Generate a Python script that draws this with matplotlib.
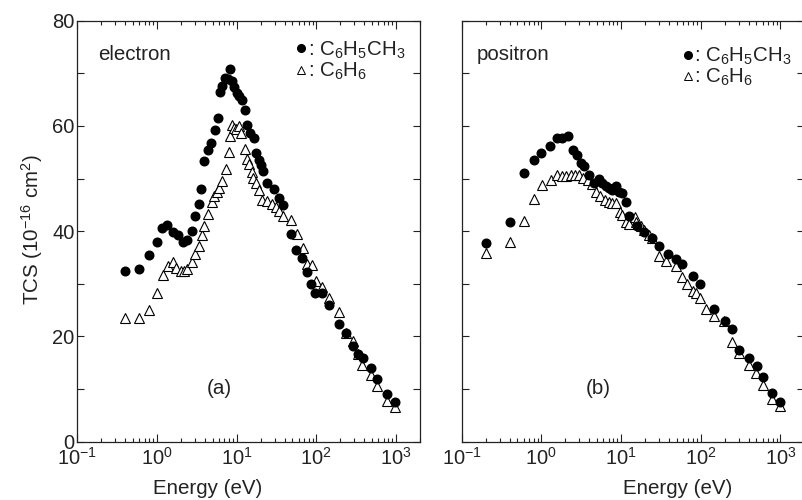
import numpy as np
import matplotlib.pyplot as plt
from matplotlib.lines import Line2D
from matplotlib.ticker import LogLocator, MultipleLocator, NullFormatter

plt.rcParams['font.family'] = ['Liberation Sans', 'DejaVu Sans']
plt.rcParams['mathtext.fontset'] = 'custom'
plt.rcParams['mathtext.rm'] = 'Liberation Sans'
plt.rcParams['mathtext.it'] = 'Liberation Sans:italic'
plt.rcParams['text.color'] = '#222222'

# ---- electron, toluene (filled circles)
e_tol_E = [0.4, 0.6, 0.8, 1.0, 1.15, 1.35, 1.6, 1.84, 2.1, 2.4, 2.74, 3.0, 3.36, 3.6,
           3.87, 4.4, 4.8, 5.4, 5.85, 6.2, 6.6, 7.1, 7.7, 8.3, 8.7, 9.35, 10.1, 10.8,
           11.7, 12.7, 13.5, 14.6, 16.6, 17.7, 18.8, 20, 21.4, 24.3, 29.4, 34, 38.6,
           48.6, 56, 67, 77, 86, 96, 117, 145, 190, 237, 285, 333, 383, 480, 580, 775, 980]
e_tol_T = [32.4, 32.8, 35.5, 38.0, 40.6, 41.2, 39.9, 39.3, 38.0, 38.3, 40.1, 42.9, 45.2, 48.0,
           53.4, 55.5, 56.7, 59.3, 61.6, 66.4, 67.5, 69.2, 69.0, 70.9, 68.6, 67.4, 66.2, 65.6,
           65.0, 63.1, 60.1, 58.6, 57.7, 54.8, 53.6, 52.6, 51.5, 49.2, 48.0, 46.4, 44.9,
           39.4, 36.4, 34.9, 32.3, 30.0, 28.3, 28.2, 25.9, 22.3, 20.7, 18.1, 16.6, 16.0, 14.0, 11.9, 9.0, 7.5]

# ---- electron, benzene (open triangles)
e_ben_E = [0.4, 0.6, 0.8, 1.0, 1.19, 1.37, 1.58, 1.75, 1.98, 2.2, 2.4, 2.75, 3.0, 3.35,
           3.7, 3.87, 4.4, 4.9, 5.2, 5.6, 6.0, 6.6, 7.3, 7.9, 8.3, 8.7, 9.2, 9.8, 10.8,
           11.5, 12.7, 13.3, 14.4, 15.4, 16.2, 17.6, 19.1, 21, 23.9, 27.5, 31, 34, 38,
           48.6, 58, 68, 77, 89, 98, 118, 145, 190, 237, 285, 333, 375, 480, 580, 775, 980]
e_ben_T = [23.6, 23.6, 25.0, 28.3, 31.7, 33.4, 34.2, 33.1, 32.5, 32.4, 32.8, 34.2, 35.7, 37.1,
           39.3, 40.9, 43.3, 45.5, 46.6, 47.4, 48.3, 49.6, 51.8, 55.1, 58.0, 60.1, 59.7, 59.4, 59.9,
           58.6, 55.6, 53.7, 52.8, 51.2, 50.1, 49.2, 47.9, 45.9, 45.8, 45.2, 44.6, 43.9, 42.9,
           42.1, 39.4, 36.9, 33.7, 33.6, 30.6, 29.4, 27.3, 24.7, 20.7, 19.2, 16.7, 14.6, 12.7, 10.6, 7.8, 6.5]

# ---- positron, toluene
p_tol_E = [0.2, 0.4, 0.6, 0.8, 1.0, 1.29, 1.57, 1.84, 2.16, 2.5, 2.77, 3.1, 3.4, 3.94,
           4.6, 5.3, 5.8, 6.4, 7.1, 7.8, 8.6, 9.5, 10.2, 11.5, 12.6, 16, 19.4, 24.3, 30,
           39, 48.6, 59, 79, 99, 146, 200, 247, 302, 400, 506, 600, 780, 980]
p_tol_T = [37.8, 41.8, 51.1, 53.6, 54.8, 56.1, 57.7, 57.8, 58.0, 55.5, 54.5, 52.9, 52.3, 50.6,
           49.2, 49.9, 49.1, 48.5, 48.2, 47.8, 48.5, 47.5, 47.3, 45.5, 42.8, 40.9, 39.9, 38.7, 37.2,
           35.6, 34.7, 33.7, 31.5, 29.9, 25.2, 22.9, 21.4, 17.4, 16.0, 14.3, 12.2, 9.3, 7.6]

# ---- positron, benzene
p_ben_E = [0.2, 0.4, 0.6, 0.8, 1.02, 1.32, 1.57, 1.8, 2.06, 2.37, 2.66, 3.0, 3.37, 3.83,
           4.33, 4.9, 5.5, 6.2, 7.0, 7.7, 8.6, 9.7, 10.2, 11.5, 12.6, 14.9, 15.6, 17.8, 19.4,
           22.5, 24.7, 30, 36.8, 48.6, 59, 68, 79, 87, 99, 117, 148, 195, 250, 302, 400, 500,
           600, 780, 980]
p_ben_T = [35.8, 38.0, 42.0, 46.1, 48.7, 49.8, 50.7, 50.4, 50.4, 50.7, 50.7, 50.7, 50.1, 49.8,
           48.9, 47.5, 46.6, 46.0, 45.6, 45.3, 45.3, 43.7, 43.1, 41.8, 41.4, 42.7, 41.8, 40.9, 40.2,
           39.3, 38.7, 35.3, 34.4, 33.3, 31.3, 30.0, 28.6, 28.2, 27.4, 25.2, 23.9, 22.9, 19.0, 16.8,
           14.6, 13.0, 10.8, 8.1, 6.8]

labels = [': C$_6$H$_5$CH$_3$', ': C$_6$H$_6$']

FS = 14.8

fig = plt.figure(figsize=(8.03, 5.0), dpi=100)
axl = fig.add_axes([77.3/803, 58.3/500, 342.7/803, 421/500])
axr = fig.add_axes([461.7/803, 58.3/500, 342.7/803, 421/500])

circ = dict(marker='o', ms=6.2, mfc='black', mec='black', ls='none')
tri = dict(marker='^', ms=6.5, mfc='white', mec='black', mew=0.8, ls='none')

for ax, tE, tT, bE, bT in [(axl, e_tol_E, e_tol_T, e_ben_E, e_ben_T),
                           (axr, p_tol_E, p_tol_T, p_ben_E, p_ben_T)]:
    ax.plot(bE, bT, **tri, zorder=2)
    ax.plot(tE, tT, **circ, zorder=3)
    ax.set_xscale('log')
    ax.set_xlim(0.1, 2000)
    ax.set_ylim(0, 80)
    ax.xaxis.set_major_locator(LogLocator(base=10, numticks=10))
    ax.xaxis.set_minor_locator(LogLocator(base=10, subs=np.arange(2, 10), numticks=20))
    ax.xaxis.set_minor_formatter(NullFormatter())
    ax.yaxis.set_major_locator(MultipleLocator(20))
    ax.yaxis.set_minor_locator(MultipleLocator(10))
    ax.tick_params(which='both', direction='in', top=True, right=True, width=0.8,
                   labelsize=14.5, colors='#222222')
    ax.tick_params(axis='x', which='major', length=6, pad=3.5)
    ax.tick_params(axis='x', which='minor', length=3)
    ax.tick_params(axis='y', which='both', length=5, pad=2)
    for s in ax.spines.values():
        s.set_linewidth(0.9)
        s.set_color('#222222')
    h = [Line2D([], [], marker='o', ms=5.5, mfc='black', mec='black', ls='none'),
         Line2D([], [], marker='^', ms=5.5, mfc='white', mec='black', mew=0.7, ls='none')]
    ax.legend(h, labels, frameon=False, fontsize=FS, handlelength=0.6, handletextpad=0.0,
              labelspacing=0.0, borderaxespad=0.0, loc='upper left',
              bbox_to_anchor=(0.612, 0.975) if ax is axl else (0.617, 0.96))

axr.tick_params(axis='y', labelleft=False)

axl.text(0.06, 0.92, 'electron', transform=axl.transAxes, fontsize=FS, va='center')
axr.text(0.045, 0.92, 'positron', transform=axr.transAxes, fontsize=FS, va='center')
axl.text(0.415, 0.127, '(a)', transform=axl.transAxes, fontsize=FS, va='center', ha='center')
axr.text(0.398, 0.127, '(b)', transform=axr.transAxes, fontsize=FS, va='center', ha='center')

fig.text(208/803, 1 - 489/500, 'Energy (eV)', ha='center', va='center', fontsize=FS)
fig.text(678/803, 1 - 489/500, 'Energy (eV)', ha='center', va='center', fontsize=FS)
fig.text(32/803, 1 - 230/500, 'TCS (10$^{-16}$ cm$^2$)', ha='center', va='center',
         rotation=90, fontsize=FS)

fig.savefig('out.png', dpi=100)
